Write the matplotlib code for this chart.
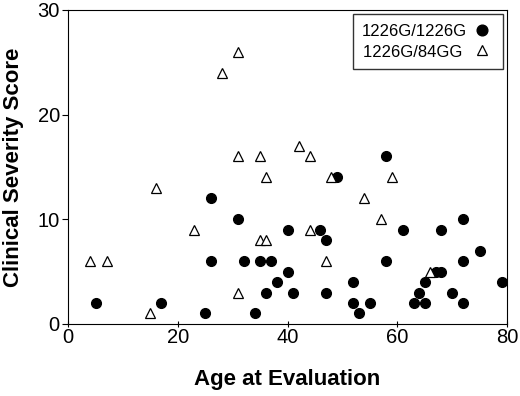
import numpy as np
import matplotlib.pyplot as plt

plt.rcParams['font.family'] = ['Liberation Sans', 'DejaVu Sans']

# 1226G/1226G (filled circles)
gg_age = [5, 17, 25, 26, 26, 31, 32, 34, 35, 36, 37, 38, 40, 40, 41, 46, 47, 47, 49,
          52, 52, 53, 55, 58, 58, 61, 63, 64, 65, 65, 67, 68, 68, 70, 72, 72, 72, 75, 79]
gg_score = [2, 2, 1, 6, 12, 10, 6, 1, 6, 3, 6, 4, 9, 5, 3, 9, 8, 3, 14,
            4, 2, 1, 2, 16, 6, 9, 2, 3, 2, 4, 5, 5, 9, 3, 10, 6, 2, 7, 4]

# 1226G/84GG (open triangles)
g84_age = [4, 7, 15, 16, 23, 28, 31, 31, 31, 35, 35, 36, 36, 42, 44, 44, 47, 48, 54, 57, 59, 66]
g84_score = [6, 6, 1, 13, 9, 24, 26, 16, 3, 16, 8, 8, 14, 17, 16, 9, 6, 14, 12, 10, 14, 5]

fig = plt.figure(figsize=(5.2, 3.96), dpi=100)
ax = fig.add_axes([0.131, 0.182, 0.844, 0.793])

ax.plot(gg_age, gg_score, 'o', color='black', markersize=7, linestyle='none',
        label='1226G/1226G')
# trailing space keeps the two legend labels left-aligned
ax.plot(g84_age, g84_score, '^', markerfacecolor='white', markeredgecolor='black',
        markeredgewidth=0.9, markersize=7, linestyle='none', label='1226G/84GG ')

ax.set_xlim(0, 80)
ax.set_ylim(0, 30)
ax.set_xticks([0, 20, 40, 60, 80])
ax.set_yticks([0, 10, 20, 30])
ax.tick_params(axis='both', labelsize=14.5, length=4, width=0.8, pad=2)
ax.tick_params(axis='x', direction='inout', pad=1)
ax.set_xlabel('Age at Evaluation', fontsize=16, fontweight='bold', labelpad=16)
ax.set_ylabel('Clinical Severity Score', fontsize=16, fontweight='bold', labelpad=10)

leg = ax.legend(loc='upper right', markerfirst=False, fontsize=12, frameon=True,
                fancybox=False, edgecolor='black', handletextpad=0.2,
                borderaxespad=0.25, borderpad=0.55, handlelength=1.4,
                handleheight=0.9, labelspacing=0.3, markerscale=1.1)
leg.get_frame().set_linewidth(1.0)

plt.savefig('out.png', dpi=100)
